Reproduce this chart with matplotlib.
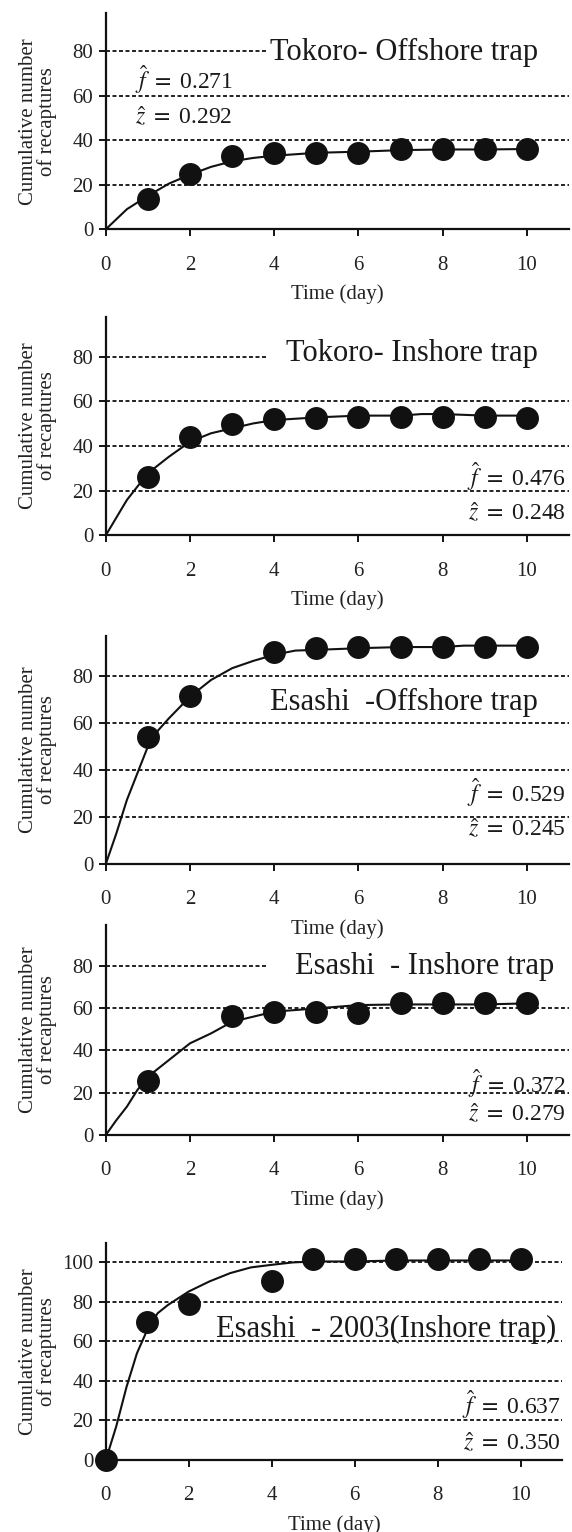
import numpy as np
import matplotlib
matplotlib.use('Agg')
import matplotlib.pyplot as plt

plt.rcParams['font.family'] = ['Liberation Serif', 'DejaVu Serif']
plt.rcParams['mathtext.fontset'] = 'stix'

# observed cumulative recaptures (dots)
days_1 = [1, 2, 3, 4, 5, 6, 7, 8, 9, 10]
obs_1 = [13.6, 24.8, 32.9, 34.4, 34.4, 34.4, 36.0, 36.0, 36.0, 35.8]
days_2 = [1, 2, 3, 4, 5, 6, 7, 8, 9, 10]
obs_2 = [26.3, 44.2, 49.9, 52.2, 52.7, 52.8, 52.8, 53.1, 52.8, 52.7]
days_3 = [1, 2, 4, 5, 6, 7, 8, 9, 10]
obs_3 = [53.9, 71.5, 90.1, 92.1, 92.3, 92.3, 92.3, 92.3, 92.3]
days_4 = [1, 3, 4, 5, 6, 7, 8, 9, 10]
obs_4 = [25.7, 56.5, 58.4, 58.0, 57.9, 62.6, 62.6, 62.6, 62.6]
days_5 = [0, 1, 2, 4, 5, 6, 7, 8, 9, 10]
obs_5 = [0, 70.1, 78.9, 90.4, 101.9, 101.9, 101.9, 101.9, 101.9, 101.9]

# fitted curves
fit_t1 = [0, 0.5, 1, 1.5, 2, 2.5, 3, 3.5, 4, 5, 6, 7, 8, 9, 10]
fit_1 = [0, 9, 15, 20.5, 24.5, 28, 30.5, 32, 33, 34.3, 34.8, 35.5, 35.8, 35.8, 36]
fit_t2 = [0, 0.5, 1, 1.5, 2, 2.5, 3, 3.5, 4, 5, 6, 7, 7.5, 8, 9, 10]
fit_2 = [0, 15.8, 27.8, 35.2, 41.9, 45.7, 47.9, 50.1, 51.6, 52.8, 53.6, 53.6, 54.3, 54.3, 53.6, 53.6]
fit_t3 = [0, 0.25, 0.5, 0.75, 1, 1.25, 1.5, 2, 2.5, 3, 3.5, 4, 4.5, 5, 6, 7, 8, 8.5, 9, 10]
fit_3 = [0, 13, 27.2, 38.6, 50, 57, 62, 71.2, 78.3, 83.3, 86.4, 89, 90.8, 91.1, 91.8, 92.3, 92.3, 92.9, 92.9, 92.9]
fit_t4 = [0, 0.25, 0.5, 0.75, 1, 1.5, 2, 2.5, 3, 3.5, 4, 5, 6, 7, 8, 9, 10]
fit_4 = [0, 7, 13.4, 21.3, 27.6, 35.5, 43.4, 48.1, 53.6, 56, 58.4, 59.9, 61.5, 61.8, 61.8, 61.8, 62.3]
fit_t5 = [0, 0.25, 0.5, 0.75, 1, 1.25, 1.5, 2, 2.5, 3, 3.5, 4, 4.5, 5, 6, 7, 8, 9, 10]
fit_5 = [0, 16.9, 37, 54, 65.9, 74.3, 78.5, 85.3, 90.4, 94.6, 97.5, 98.8, 100, 100.5, 100.5, 101, 101, 101, 101]

titles = ['Tokoro- Offshore trap', 'Tokoro- Inshore trap', 'Esashi  -Offshore trap',
          'Esashi  - Inshore trap', 'Esashi  - 2003(Inshore trap)']
f_hat = ['0.271', '0.476', '0.529', '0.372', '0.637']
z_hat = ['0.292', '0.248', '0.245', '0.279', '0.350']

days = [days_1, days_2, days_3, days_4, days_5]
obs = [obs_1, obs_2, obs_3, obs_4, obs_5]
fit_t = [fit_t1, fit_t2, fit_t3, fit_t4, fit_t5]
fit = [fit_1, fit_2, fit_3, fit_4, fit_5]

W, H = 572, 1532
fig = plt.figure(figsize=(W / 100, H / 100), dpi=100)

# axes boxes in pixels: left, right, top, bottom
boxes = [(105.8, 569, 13, 229.3), (105.8, 569, 316.7, 535.3), (105.8, 569, 636, 864),
         (105.8, 569, 925, 1135), (105.8, 562, 1242.7, 1460)]
ytops = [97, 97.9, 97, 99.4, 110]
ymax_tick = [80, 80, 80, 80, 100]
short80 = [True, True, False, True, False]      # 80 grid line stops early
title_pos = [(7.09, 79.1), (7.26, 81.6), (7.07, 68.5), (7.58, 79.7), (6.75, 65.9)]
# (x, y_f, y_z, align)
est_pos = [(0.69, 67.3, 50.0, 'left'), (10.93, 26.2, 9.9, 'right'), (10.93, 30.2, 14.5, 'right'),
           (10.93, 24.6, 9.5, 'right'), (10.98, 27.9, 8.4, 'right')]

for i in range(5):
    l, r, t, b = boxes[i]
    ax = fig.add_axes([l / W, 1 - b / H, (r - l) / W, (b - t) / H])
    ax.set_facecolor('none')
    ax.set_xlim(0, 11)
    ax.set_ylim(0, ytops[i])
    for s in ['top', 'right']:
        ax.spines[s].set_visible(False)
    for s in ['left', 'bottom']:
        ax.spines[s].set_linewidth(1.6)
        ax.spines[s].set_color('#111111')
    yt = list(range(0, ymax_tick[i] + 1, 20))
    ax.set_yticks(yt)
    ax.set_xticks([0, 2, 4, 6, 8, 10])
    ax.tick_params(axis='both', direction='out', length=5, width=1.3, labelsize=15,
                   labelcolor='#222222')
    ax.tick_params(axis='x', pad=14)
    ax.tick_params(axis='y', pad=4)

    # dotted grid lines
    for v in yt[1:]:
        xe = 3.85 if (v == 80 and short80[i]) else 11
        ax.hlines(v, 0, xe, colors='#111111', linestyles=(0, (2.2, 1.4)), linewidth=1.3, zorder=1)

    ax.plot(fit_t[i], fit[i], color='#111111', lw=1.5, zorder=2)
    ax.plot(days[i], obs[i], 'o', color='#111111', markersize=15.5, zorder=3, clip_on=False)

    ax.text(title_pos[i][0], title_pos[i][1], titles[i], fontsize=22, ha='center', va='center',
            color='#1a1a1a', zorder=4)
    x, yf, yz, al = est_pos[i]
    ax.text(x, yf, r'$\hat{f}\ =\ $' + f_hat[i], fontsize=17, ha=al, va='center', color='#1a1a1a', zorder=4)
    ax.text(x, yz, r'$\hat{z}\ =\ $' + z_hat[i], fontsize=17, ha=al, va='center', color='#1a1a1a', zorder=4)

    ax.set_xlabel('Time (day)', fontsize=15, labelpad=7, color='#222222')
    ax.set_ylabel('Cumulative number\nof recaptures', fontsize=15, linespacing=0.95, color='#222222')
    ax.yaxis.set_label_coords(-0.106, 0.5)

fig.savefig('out.png', dpi=100)
